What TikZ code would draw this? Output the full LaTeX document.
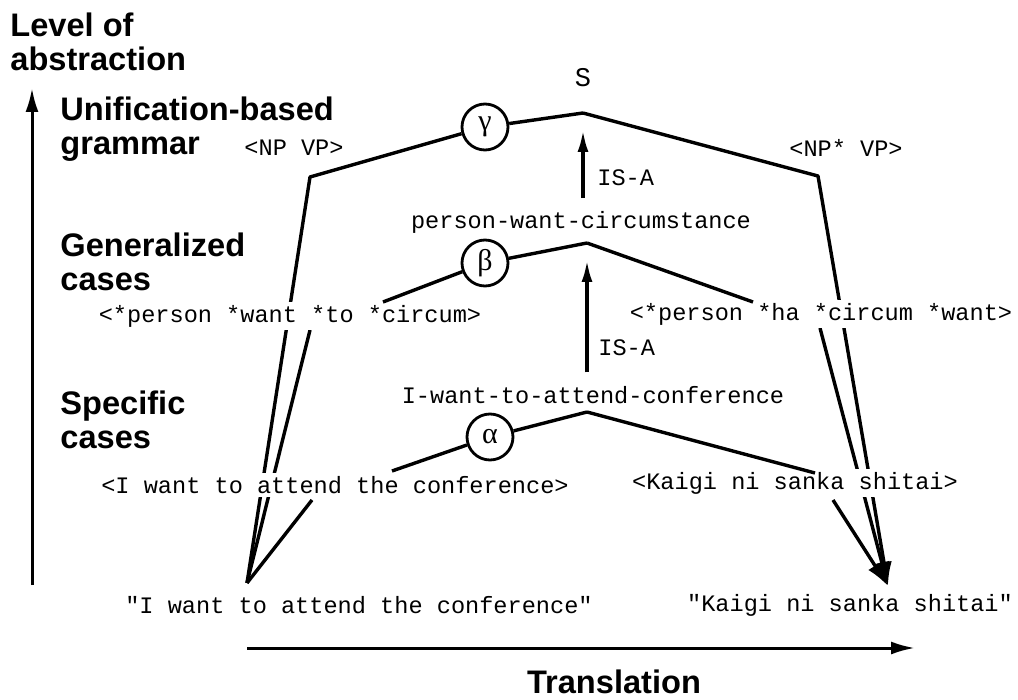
\documentclass[tikz,border=0pt]{standalone}
\usepackage{fontspec}
\setmainfont{Liberation Sans}
\setmonofont{Liberation Mono}
\newfontfamily\greekfont{Liberation Serif}
\usepackage{tikz}
\usetikzlibrary{arrows.meta}

\tikzset{
	lvl/.style={font=\bfseries\fontsize{16.3}{17}\selectfont, align=left, anchor=west, inner sep=0pt},
	expr/.style={font=\ttfamily\fontsize{11.8}{12}\selectfont, fill=white, inner xsep=0pt, inner ysep=1.5pt},
	rulenode/.style={draw, circle, line width=1.4pt, minimum size=23pt, inner sep=0pt, font=\greekfont\fontsize{15}{15}\selectfont},
	tree/.style={line width=1.7pt, line join=round},
	leg/.style={tree, -{Latex[length=12pt,width=8pt]}},
	axis/.style={line width=1.5pt, -{Latex[length=12pt,width=6.5pt]}},
	isa/.style={line width=1.7pt, -{Latex[length=11pt,width=5.5pt]}}
}

\begin{document}
\begin{tikzpicture}[x=0.5pt,y=-0.5pt]
\useasboundingbox (0,0) rectangle (1018,700);

% axes
\node[lvl] (abst) at (10,42) {Level of\\abstraction};
\coordinate (y0) at (32,585);
\coordinate (y1) at (32,88);
\draw[axis] (y0) -- (y1);
\coordinate (x0) at (247,648);
\coordinate (x1) at (915,648);
\draw[axis] (x0) -- (x1);
\node[lvl, anchor=center] (trans) at (614,682) {Translation};

\node[lvl] (ubg) at (60,129) {Unification-based\\grammar};
\node[lvl] (gc) at (60,262) {Generalized\\cases};
\node[lvl] (sc) at (60,420) {Specific\\cases};

% tops of the three levels, and the two sentences
\coordinate (topS) at (583,113);
\coordinate (topP) at (587,243);
\coordinate (topI) at (587,412);
\coordinate (BL) at (247,583);
\coordinate (BR) at (888,586);

\node[rulenode] (g) at (485,127) {γ};
\node[rulenode] (b) at (485,263) {β};
\node[rulenode] (a) at (490,437) {α};

% legs down to the two sentences
\coordinate (L1) at (310,177);
\coordinate (R1) at (818,176);
\coordinate (bLd) at (310,330);
\coordinate (bRd) at (820,328);
\coordinate (aLd) at (312,500);
\coordinate (aRd) at (833,500);
\draw[tree] (topS) -- (g);
\draw[tree] (g) -- (L1) -- (BL);
\foreach \c in {bLd,aLd} \draw[tree] (\c) -- (BL);
\draw[leg] (topS) -- (R1) -- (BR);
\foreach \c in {bRd,aRd} \draw[leg] (\c) -- (BR);

% expressions (white fill cuts the long legs)
\node[expr, font=\ttfamily\fontsize{13.5}{14}\selectfont] (s) at (583,78) {S};
\node[expr] (np) at (294,148) {<NP VP>};
\node[expr] (npj) at (846,148) {<NP* VP>};
\node[expr] (pwc) at (581,222) {person-want-circumstance};
\node[expr] (gene) at (290,316) {<*person *want *to *circum>};
\node[expr] (genj) at (821,314) {<*person *ha *circum *want>};
\node[expr] (iwac) at (593,395) {I-want-to-attend-conference};
\node[expr] (spece) at (335,485) {<I want to attend the conference>};
\node[expr] (specj) at (795,483) {<Kaigi ni sanka shitai>};
\node[expr] (src) at (359,605) {"I want to attend the conference"};
\node[expr] (tgt) at (850,605) {"Kaigi ni sanka shitai"};

% generalized and specific pairs
\coordinate (bL) at (383,302);
\coordinate (bR) at (753,302);
\coordinate (aL) at (392,471);
\coordinate (aR) at (815,473);
\draw[tree] (topP) -- (b) -- (bL);
\draw[tree] (topP) -- (bR);
\draw[tree] (topI) -- (a) -- (aL);
\draw[tree] (topI) -- (aR);

% IS-A arrows
\draw[isa, shorten <=4.7pt, shorten >=8.5pt] (pwc.north -| topS) -- (topS);
\node[expr, anchor=west] (isa1) at (597,178) {IS-A};
\draw[isa, shorten <=5.2pt, shorten >=8.5pt] (iwac.north -| topP) -- (topP);
\node[expr, anchor=west] (isa2) at (598,348) {IS-A};
\end{tikzpicture}
\end{document}
